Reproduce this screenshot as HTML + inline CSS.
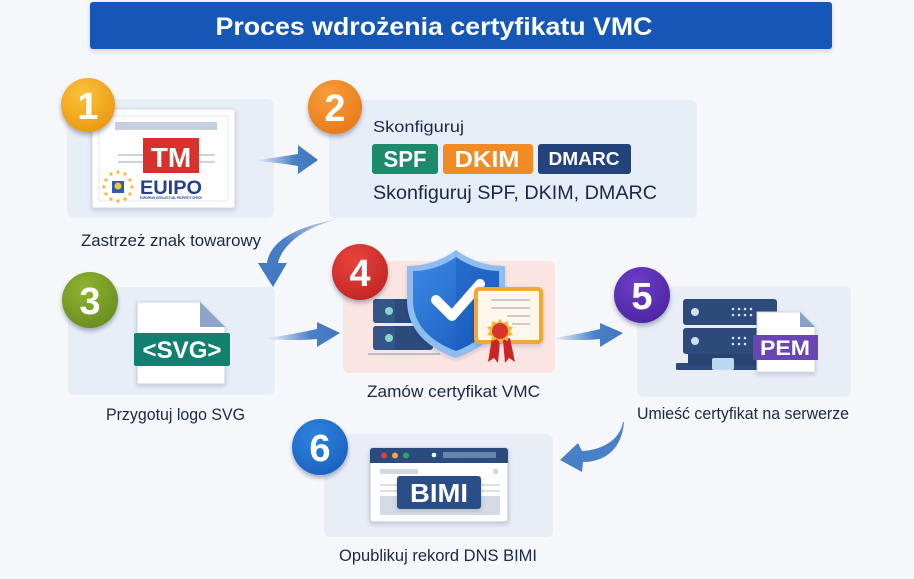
<!DOCTYPE html>
<html><head><meta charset="utf-8"><style>
html,body{margin:0;padding:0;background:#f6f7fb;}
svg{display:block;}
text{font-family:"Liberation Sans",Arial,sans-serif;}
</style></head><body>
<svg width="914" height="579" viewBox="0 0 914 579" xmlns="http://www.w3.org/2000/svg">
<defs>
  <filter id="sh" x="-20%" y="-20%" width="140%" height="150%"><feDropShadow dx="0" dy="2" stdDeviation="2" flood-color="#1a2a50" flood-opacity="0.18"/></filter>
  <filter id="bsh" x="-30%" y="-30%" width="160%" height="170%"><feDropShadow dx="0" dy="3" stdDeviation="2" flood-color="#1a2a50" flood-opacity="0.35"/></filter>
  <linearGradient id="ag" x1="0" y1="0" x2="1" y2="0"><stop offset="0" stop-color="#4a7fc4" stop-opacity="0"/><stop offset="0.6" stop-color="#4a80c6"/><stop offset="1" stop-color="#3f76c0"/></linearGradient>
  <linearGradient id="agv" x1="1" y1="0" x2="0" y2="1"><stop offset="0" stop-color="#4a7fc4" stop-opacity="0.2"/><stop offset="0.5" stop-color="#4a80c6"/><stop offset="1" stop-color="#3f76c0"/></linearGradient>
  <linearGradient id="shg" x1="0" y1="0" x2="1" y2="1"><stop offset="0" stop-color="#3b8ae6"/><stop offset="1" stop-color="#1656b8"/></linearGradient>
  <radialGradient id="g1" cx="0.4" cy="0.3" r="0.8"><stop offset="0" stop-color="#fbc23a"/><stop offset="1" stop-color="#e9950e"/></radialGradient>
  <radialGradient id="g2" cx="0.4" cy="0.3" r="0.8"><stop offset="0" stop-color="#fa9e3c"/><stop offset="1" stop-color="#e57716"/></radialGradient>
  <radialGradient id="g3" cx="0.4" cy="0.3" r="0.8"><stop offset="0" stop-color="#8fb432"/><stop offset="1" stop-color="#668a1e"/></radialGradient>
  <radialGradient id="g4" cx="0.4" cy="0.3" r="0.8"><stop offset="0" stop-color="#e8443c"/><stop offset="1" stop-color="#c02323"/></radialGradient>
  <radialGradient id="g5" cx="0.4" cy="0.3" r="0.8"><stop offset="0" stop-color="#6d3fc6"/><stop offset="1" stop-color="#4b23a0"/></radialGradient>
  <radialGradient id="g6" cx="0.4" cy="0.3" r="0.8"><stop offset="0" stop-color="#2f83dc"/><stop offset="1" stop-color="#1a5fbf"/></radialGradient>
</defs>

<!-- Title -->
<rect x="90" y="2" width="742" height="47" rx="3" fill="#1656b6" filter="url(#sh)"/>
<text x="434" y="35" font-size="25" font-weight="bold" fill="#fff" text-anchor="middle" textLength="437" lengthAdjust="spacingAndGlyphs">Proces wdrożenia certyfikatu VMC</text>

<!-- Cards -->
<rect x="67" y="99" width="207" height="119" rx="6" fill="#e8eef8"/>
<rect x="329" y="100" width="368" height="118" rx="6" fill="#e8eef8"/>
<rect x="68" y="287" width="207" height="108" rx="6" fill="#e8eef8"/>
<rect x="343" y="261" width="212" height="112" rx="6" fill="#fbe5e3"/>
<rect x="637" y="286" width="214" height="111" rx="6" fill="#e8edf6"/>
<rect x="324" y="434" width="229" height="103" rx="6" fill="#e8edf6"/>

<!-- Arrows -->
<path d="M257,160 Q280,157 298,154 L298,145 L318,160 L298,174 L298,166 Q280,163 257,161 Z" fill="url(#ag)"/>
<path d="M267,338 Q295,334 317,329 L317,322 L340,333 L317,347 L317,339 Q295,341 267,339 Z" fill="url(#ag)"/>
<path d="M553,338 Q580,334 600,329 L600,323 L623,333 L600,347 L600,339 Q580,341 553,339 Z" fill="url(#ag)"/>
<path d="M340,219 C300,225 270,240 267,263 L258,263 L273,287 L287,263 L278,263 C282,245 305,226 340,219 Z" fill="url(#agv)"/>
<path d="M623,422 C620,440 602,450 582,451 L578,443 L560,460 L582,472 L583,462 C606,462 622,448 624,422 Z" fill="#4a80c6"/>

<!-- Card 1 content -->
<rect x="92" y="109" width="143" height="99" rx="2" fill="#fff" stroke="#d3dae6" filter="url(#sh)"/>
<rect x="99" y="116" width="129" height="85" fill="none" stroke="#e3e8f0"/>
<rect x="115" y="122" width="102" height="8" fill="#c6cfdd"/>
<line x1="118" y1="155" x2="143" y2="155" stroke="#b9c4d6" stroke-width="1.5"/>
<line x1="118" y1="162" x2="143" y2="162" stroke="#b9c4d6" stroke-width="1.5"/>
<line x1="199" y1="155" x2="215" y2="155" stroke="#b9c4d6" stroke-width="1.5"/>
<line x1="199" y1="162" x2="215" y2="162" stroke="#b9c4d6" stroke-width="1.5"/>
<rect x="143" y="138" width="56" height="35" fill="#d8302a"/>
<text x="171" y="167" font-size="28" font-weight="bold" fill="#fff" text-anchor="middle">TM</text>
<rect x="112" y="181" width="12" height="12" fill="#2b5cb0"/>
<circle cx="118" cy="186" r="3.5" fill="#f2c531"/>
<g fill="#f2b92a">
<circle cx="118" cy="172" r="1.6"/><circle cx="125" cy="174" r="1.6"/><circle cx="130" cy="180" r="1.6"/><circle cx="132" cy="187" r="1.6"/><circle cx="130" cy="194" r="1.6"/><circle cx="125" cy="199" r="1.6"/><circle cx="118" cy="201" r="1.6"/><circle cx="111" cy="199" r="1.6"/><circle cx="106" cy="194" r="1.6"/><circle cx="104" cy="187" r="1.6"/><circle cx="106" cy="180" r="1.6"/><circle cx="111" cy="174" r="1.6"/>
</g>
<text x="140" y="194" font-size="19" font-weight="bold" fill="#27408b" textLength="62" lengthAdjust="spacingAndGlyphs">EUIPO</text>
<text x="140" y="199" font-size="3.6" font-weight="bold" fill="#27408b" textLength="62" lengthAdjust="spacingAndGlyphs">EUROPEAN INTELLECTUAL PROPERTY OFFICE</text>
<text x="81" y="246" font-size="17" fill="#1c2748" textLength="180" lengthAdjust="spacingAndGlyphs">Zastrzeż znak towarowy</text>

<!-- Card 2 content -->
<text x="373" y="132" font-size="16" fill="#1c2748" textLength="91" lengthAdjust="spacingAndGlyphs">Skonfiguruj</text>
<rect x="372" y="144" width="66" height="30" rx="3" fill="#1d8a6b"/>
<rect x="443" y="144" width="90" height="30" rx="3" fill="#f28a26"/>
<rect x="538" y="144" width="93" height="30" rx="3" fill="#24427b"/>
<text x="405" y="167" font-size="23" font-weight="bold" fill="#fff" text-anchor="middle" textLength="43" lengthAdjust="spacingAndGlyphs">SPF</text>
<text x="487" y="167" font-size="23" font-weight="bold" fill="#fff" text-anchor="middle" textLength="65" lengthAdjust="spacingAndGlyphs">DKIM</text>
<text x="584" y="165" font-size="18" font-weight="bold" fill="#fff" text-anchor="middle" textLength="71" lengthAdjust="spacingAndGlyphs">DMARC</text>
<text x="373" y="199" font-size="19" fill="#1c2748" textLength="284" lengthAdjust="spacingAndGlyphs">Skonfiguruj SPF, DKIM, DMARC</text>

<!-- Card 3 content -->
<path d="M137,302 L200,302 L225,327 L225,384 L137,384 Z" fill="#fff" stroke="#c9d2e0" filter="url(#sh)"/>
<path d="M200,302 L225,327 L200,327 Z" fill="#8ea3c8"/>
<rect x="134" y="333" width="96" height="33" rx="2" fill="#12806f"/>
<text x="182" y="358" font-size="24" font-weight="bold" fill="#fff" text-anchor="middle" textLength="79" lengthAdjust="spacingAndGlyphs">&lt;SVG&gt;</text>
<text x="106" y="420" font-size="17" fill="#1c2748" textLength="139" lengthAdjust="spacingAndGlyphs">Przygotuj logo SVG</text>

<!-- Card 4 content -->
<line x1="368" y1="354" x2="440" y2="354" stroke="#b7bfcc" stroke-width="2"/>
<rect x="373" y="299" width="60" height="24" rx="3" fill="#2d4a7c"/>
<rect x="373" y="326" width="60" height="24" rx="3" fill="#2d4a7c"/>
<rect x="373" y="299" width="22" height="24" rx="3" fill="#34558a"/>
<rect x="373" y="326" width="22" height="24" rx="3" fill="#34558a"/>
<circle cx="389" cy="311" r="4" fill="#84d6c6"/>
<circle cx="389" cy="338" r="4" fill="#84d6c6"/>
<path d="M456,250 C440,262 422,266 407,266 L407,300 C407,330 428,348 456,358 C484,348 505,330 505,300 L505,266 C490,266 472,262 456,250 Z" fill="#8fbdf0" filter="url(#sh)"/>
<path d="M456,257 C442,267 426,271 413,271 L413,300 C413,326 432,342 456,351 C480,342 499,326 499,300 L499,271 C486,271 470,267 456,257 Z" fill="url(#shg)"/>
<path d="M456,257 L456,351 C480,342 499,326 499,300 L499,271 C486,271 470,267 456,257 Z" fill="#1a5cc0" opacity="0.5"/>
<polyline points="436,300 452,316 480,284" fill="none" stroke="#fff" stroke-width="10" stroke-linecap="round" stroke-linejoin="round"/>
<rect x="476" y="289" width="65" height="53" rx="3" fill="#fff7ea" stroke="#f3a73a" stroke-width="4" filter="url(#sh)"/>
<line x1="491" y1="300" x2="530" y2="300" stroke="#c9ccd3" stroke-width="2"/>
<line x1="491" y1="308" x2="530" y2="308" stroke="#c9ccd3" stroke-width="2"/>
<line x1="507" y1="316" x2="530" y2="316" stroke="#c9ccd3" stroke-width="2"/>
<line x1="512" y1="324" x2="530" y2="324" stroke="#c9ccd3" stroke-width="2"/>
<path d="M492,338 L488,362 L494,358 L498,363 L500,340 Z" fill="#c8262a"/>
<path d="M503,340 L505,363 L509,358 L515,362 L510,338 Z" fill="#c8262a"/>
<polygon points="500,319 503,323 508,321 508,326 513,327 510,331 513,335 508,336 508,341 503,339 500,343 497,339 492,341 492,336 487,335 490,331 487,327 492,326 492,321 497,323" fill="#f4b53a"/>
<circle cx="500" cy="331" r="8" fill="#d8342b"/>
<text x="367" y="397" font-size="17" fill="#1c2748" textLength="173" lengthAdjust="spacingAndGlyphs">Zamów certyfikat VMC</text>

<!-- Card 5 content -->
<rect x="676" y="363" width="101" height="7" rx="1" fill="#2e4a7a"/>
<rect x="688" y="352" width="84" height="13" fill="#294371"/>
<rect x="712" y="358" width="22" height="12" rx="2" fill="#bed8f0"/>
<rect x="683" y="299" width="94" height="26" rx="3" fill="#2e4a7a"/>
<rect x="683" y="328" width="94" height="26" rx="3" fill="#2e4a7a"/>
<circle cx="695" cy="312" r="4" fill="#cfe0f2"/>
<circle cx="695" cy="341" r="4" fill="#cfe0f2"/>
<g fill="#cfe0f2">
<circle cx="733" cy="309" r="1.3"/><circle cx="739" cy="309" r="1.3"/><circle cx="745" cy="309" r="1.3"/><circle cx="751" cy="309" r="1.3"/>
<circle cx="733" cy="315" r="1.3"/><circle cx="739" cy="315" r="1.3"/><circle cx="745" cy="315" r="1.3"/><circle cx="751" cy="315" r="1.3"/>
<circle cx="733" cy="338" r="1.3"/><circle cx="739" cy="338" r="1.3"/><circle cx="745" cy="338" r="1.3"/>
<circle cx="733" cy="344" r="1.3"/><circle cx="739" cy="344" r="1.3"/><circle cx="745" cy="344" r="1.3"/>
</g>
<path d="M757,312 L800,312 L815,327 L815,372 L757,372 Z" fill="#fff" stroke="#d2d9e4" filter="url(#sh)"/>
<path d="M800,312 L815,327 L800,327 Z" fill="#8aa0c4"/>
<rect x="753" y="335" width="65" height="25" fill="#6a46b2"/>
<text x="785" y="355" font-size="21" font-weight="bold" fill="#fff" text-anchor="middle" textLength="50" lengthAdjust="spacingAndGlyphs">PEM</text>
<text x="637" y="419" font-size="17" fill="#1c2748" textLength="212" lengthAdjust="spacingAndGlyphs">Umieść certyfikat na serwerze</text>

<!-- Card 6 content -->
<rect x="370" y="448" width="138" height="74" rx="3" fill="#fff" stroke="#b9c6d8" filter="url(#sh)"/>
<path d="M373,448 L505,448 Q508,448 508,451 L508,463 L370,463 L370,451 Q370,448 373,448 Z" fill="#2b4a7e"/>
<circle cx="384" cy="455.5" r="3" fill="#e0413a"/>
<circle cx="395" cy="455.5" r="3" fill="#f3a53a"/>
<circle cx="406" cy="455.5" r="3" fill="#2ea56a"/>
<circle cx="434" cy="455" r="2.3" fill="#fff"/>
<rect x="443" y="452" width="53" height="6" rx="1" fill="#6a84ad"/>
<rect x="380" y="469" width="38" height="5" fill="#d3d9e2"/>
<rect x="493" y="469" width="5" height="5" fill="#d3d9e2"/>
<line x1="380" y1="485" x2="500" y2="485" stroke="#d0d7e2" stroke-width="1.5"/>
<line x1="380" y1="491" x2="500" y2="491" stroke="#d0d7e2" stroke-width="1.5"/>
<rect x="380" y="496" width="120" height="19" fill="#d5dbe5"/>
<rect x="397" y="476" width="84" height="33" rx="3" fill="#2c4f88" filter="url(#sh)"/>
<text x="439" y="502" font-size="26" font-weight="bold" fill="#fff" text-anchor="middle" textLength="58" lengthAdjust="spacingAndGlyphs">BIMI</text>
<text x="339" y="561" font-size="17" fill="#1c2748" textLength="198" lengthAdjust="spacingAndGlyphs">Opublikuj rekord DNS BIMI</text>

<!-- Badges -->
<g filter="url(#bsh)">
<circle cx="88" cy="105" r="27" fill="url(#g1)"/>
<circle cx="335" cy="107" r="27" fill="url(#g2)"/>
<circle cx="90" cy="300" r="28" fill="url(#g3)"/>
<circle cx="360" cy="272" r="28" fill="url(#g4)"/>
<circle cx="642" cy="295" r="28" fill="url(#g5)"/>
<circle cx="320" cy="447" r="28" fill="url(#g6)"/>
</g>
<g font-size="38" font-weight="bold" fill="#fff" text-anchor="middle">
<text x="88" y="119">1</text>
<text x="335" y="121">2</text>
<text x="90" y="314">3</text>
<text x="360" y="286">4</text>
<text x="642" y="309">5</text>
<text x="320" y="461">6</text>
</g>
</svg>
</body></html>
